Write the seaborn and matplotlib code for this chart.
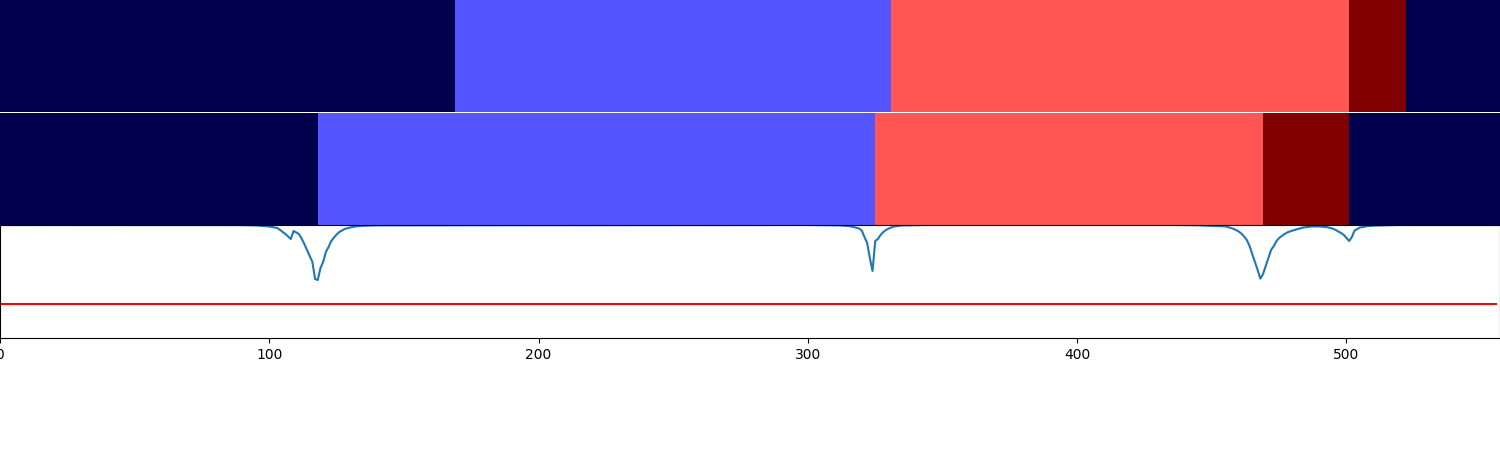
import numpy as np
import matplotlib
matplotlib.use("Agg")
import matplotlib.pyplot as plt
import seaborn as sns

# ---- data ----
n_positions = 557
state_names = [0, 1, 2, 3]

# segmentation rows: segment boundaries and state of each segment
row1_bounds = [0, 169, 331, 501, 522, 557]
row1_states = [0, 1, 2, 3, 0]
row2_bounds = [0, 118, 325, 469, 501, 557]
row2_states = [0, 1, 2, 3, 0]

# score track
score_x = [0, 90, 95, 100, 103, 104, 105, 106, 107, 108, 109, 110, 111, 112, 113,
           114, 115, 116, 117, 118, 119, 120, 121, 122, 123, 124, 125, 126, 127,
           128, 130, 132, 135, 140,
           300, 312, 315, 317, 319, 320, 321, 322, 323, 324, 325, 326, 327, 328,
           329, 330, 332, 335, 345,
           435, 445, 450, 455, 458, 460, 461, 462, 463, 464, 465, 466, 467, 468,
           469, 470, 471, 472, 473, 474, 475, 476, 477, 478, 480, 482, 484, 487,
           490, 493, 495, 496, 497, 498, 499, 500, 501, 502, 503, 505, 508, 512,
           520, 556]
score_y = [1.0, 0.999, 0.996, 0.987, 0.973, 0.956, 0.938, 0.920, 0.898, 0.876,
           0.947, 0.934, 0.920, 0.881, 0.832, 0.779, 0.726, 0.673, 0.522, 0.513,
           0.619, 0.673, 0.761, 0.805, 0.858, 0.889, 0.916, 0.938, 0.951, 0.965,
           0.978, 0.987, 0.993, 0.997,
           1.0, 0.996, 0.991, 0.982, 0.969, 0.951, 0.894, 0.841, 0.708, 0.593,
           0.858, 0.876, 0.912, 0.938, 0.956, 0.969, 0.987, 0.996, 1.0,
           1.0, 0.997, 0.992, 0.988, 0.967, 0.942, 0.923, 0.898, 0.867, 0.814,
           0.743, 0.673, 0.602, 0.525, 0.566, 0.637, 0.708, 0.779, 0.814, 0.858,
           0.885, 0.903, 0.920, 0.934, 0.951, 0.965, 0.978, 0.987, 0.987, 0.980,
           0.967, 0.956, 0.942, 0.929, 0.912, 0.885, 0.858, 0.894, 0.951, 0.978,
           0.991, 0.996, 1.0, 1.0]
threshold = 0.3
xticks = [0, 100, 200, 300, 400, 500]


def expand(bounds, states):
    return np.repeat(states, np.diff(bounds))[None, :]


fig = plt.figure(figsize=(15, 4.5), dpi=100)
ax1 = fig.add_axes([0, 0.7515, 1, 0.2485])
ax2 = fig.add_axes([0, 0.5, 1, 0.249])
ax3 = fig.add_axes([0, 0.249, 1, 0.251])

for ax, b, s in [(ax1, row1_bounds, row1_states), (ax2, row2_bounds, row2_states)]:
    sns.heatmap(expand(b, s), ax=ax, cmap="seismic", vmin=min(state_names),
                vmax=max(state_names), cbar=False, xticklabels=False,
                yticklabels=False)
    ax.set_xlim(0, n_positions)
    ax.set_xticks([])
    ax.set_yticks([])

sns.lineplot(x=score_x, y=score_y, ax=ax3, color="#1f77b4", linewidth=1.5)
ax3.hlines(threshold, 0, n_positions - 1, color="red", linewidth=1.5)
ax3.set_xlim(0, n_positions)
ax3.set_ylim(0, 1)
ax3.set_yticks([])
ax3.set_xticks(xticks)
ax3.set_xlabel("")
ax3.set_ylabel("")

fig.savefig("out.png", dpi=100)
